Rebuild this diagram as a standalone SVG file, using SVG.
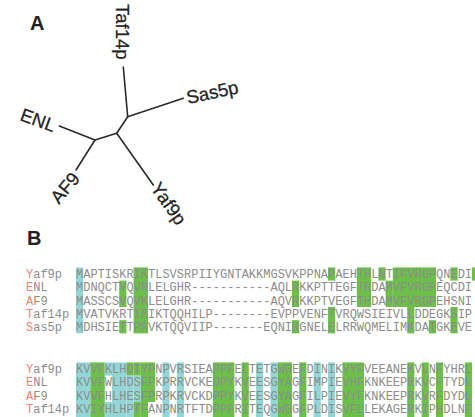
<svg xmlns="http://www.w3.org/2000/svg" width="475" height="417" viewBox="0 0 475 417">
<style>
.lbl{font-family:"Liberation Sans",Arial,sans-serif;font-weight:bold;font-size:20px;fill:#222}
.leaf{font-family:"Liberation Sans",Arial,sans-serif;font-size:18.5px;fill:#222;stroke:#222;stroke-width:0.25}
.br{stroke:#2a2a2a;stroke-width:1.6;fill:none;stroke-linecap:round}
.seq{font-family:"Liberation Mono","Courier New",monospace;font-size:12px;fill:#8c8c8c;white-space:pre}
.ini{fill:#f0846c}
.g{fill:#6cc04a}
.c{fill:#93d6d6}
</style>
<rect width="475" height="417" fill="#fff"/>
<text class="lbl" x="30" y="30">A</text>
<text class="lbl" x="27" y="245">B</text>

<g id="connectors">
<line class="br" x1="123.3" y1="67" x2="127.7" y2="116.7"/>
<line class="br" x1="127.7" y1="116.7" x2="183.3" y2="98.3"/>
<line class="br" x1="127.7" y1="116.7" x2="116.7" y2="133.3"/>
<line class="br" x1="116.7" y1="133.3" x2="153.3" y2="185"/>
<line class="br" x1="116.7" y1="133.3" x2="95" y2="140"/>
<line class="br" x1="95" y1="140" x2="59.3" y2="126"/>
<line class="br" x1="95" y1="140" x2="76" y2="170"/>
</g>
<g id="leaf-Taf14p"><text class="leaf" transform="translate(115.5,4) rotate(90)">Taf14p</text></g>
<g id="leaf-Sas5p"><text class="leaf" transform="translate(188,104) rotate(-12)">Sas5p</text></g>
<g id="leaf-ENL"><text class="leaf" transform="translate(19,120) rotate(20)">ENL</text></g>
<g id="leaf-AF9"><text class="leaf" transform="translate(59,205) rotate(-50)">AF9</text></g>
<g id="leaf-Yaf9p"><text class="leaf" transform="translate(150,188) rotate(55)">Yaf9p</text></g>

<g id="alignment-block1">
<rect class="c" x="76" y="267.4" width="7.2" height="66"/>
<rect class="g" x="119.2" y="280.6" width="7.2" height="26.4"/>
<rect class="g" x="119.2" y="320.2" width="7.2" height="13.2"/>
<rect class="g" x="133.6" y="267.4" width="14.4" height="66"/>
<rect class="g" x="292" y="280.6" width="7.2" height="26.4"/>
<rect class="g" x="292" y="320.2" width="7.2" height="13.2"/>
<rect class="g" x="328" y="267.4" width="7.2" height="13.2"/>
<rect class="g" x="328" y="307" width="7.2" height="26.4"/>
<rect class="g" x="356.8" y="267.4" width="14.4" height="39.6"/>
<rect class="g" x="378.4" y="267.4" width="7.2" height="13.2"/>
<rect class="g" x="385.6" y="280.6" width="7.2" height="26.4"/>
<rect class="g" x="392.8" y="267.4" width="43.2" height="39.6"/>
<rect class="g" x="407.2" y="307" width="7.2" height="26.4"/>
<rect class="g" x="428.8" y="320.2" width="7.2" height="13.2"/>
<rect class="g" x="450.4" y="267.4" width="7.2" height="13.2"/>
<rect class="g" x="450.4" y="307" width="7.2" height="26.4"/>
<rect class="g" x="472" y="267.4" width="7.2" height="13.2"/>
<text class="seq" x="26" y="278.2"><tspan class="ini">Y</tspan>af9p</text>
<text class="seq" x="76" y="278.2">MAPTISKRIKTLSVSRPIIYGNTAKKMGSVKPPNAPAEHTHLNTIFVRGPQNEDI</text>
<text class="seq" x="26" y="291.4"><tspan class="ini">E</tspan>NL</text>
<text class="seq" x="76" y="291.4">MDNQCTVQVRLELGHR-----------AQLRKKPTTEGFTRDAMVFVRGPEQCDI</text>
<text class="seq" x="26" y="304.6"><tspan class="ini">A</tspan>F9</text>
<text class="seq" x="76" y="304.6">MASSCSVQVKLELGHR-----------AQVRKKPTVEGFTHDAMVFVRGPEHSNI</text>
<text class="seq" x="26" y="317.8"><tspan class="ini">T</tspan>af14p</text>
<text class="seq" x="76" y="317.8">MVATVKRTIRIKTQQHILP--------EVPPVENFTVRQWSIEIVLLDDEGKSIP</text>
<text class="seq" x="26" y="331"><tspan class="ini">S</tspan>as5p</text>
<text class="seq" x="76" y="331">MDHSIETTPRVKTQQVIIP-------EQNIRGNELELRRWQMELIMKDATGKEVE</text>
</g>

<g id="alignment-block2">
<rect class="c" x="76" y="362.4" width="14.4" height="54.6"/>
<rect class="g" x="90.4" y="362.4" width="14.4" height="54.6"/>
<rect class="c" x="104.8" y="362.4" width="7.2" height="13.2"/>
<rect class="c" x="104.8" y="402" width="7.2" height="15"/>
<rect class="c" x="112" y="362.4" width="14.4" height="54.6"/>
<rect class="g" x="126.4" y="362.4" width="7.2" height="13.2"/>
<rect class="c" x="126.4" y="375.6" width="7.2" height="41.4"/>
<rect class="g" x="133.6" y="362.4" width="7.2" height="13.2"/>
<rect class="c" x="133.6" y="375.6" width="7.2" height="26.4"/>
<rect class="g" x="133.6" y="402" width="7.2" height="15"/>
<rect class="g" x="140.8" y="362.4" width="7.2" height="54.6"/>
<rect class="g" x="148" y="362.4" width="7.2" height="39.6"/>
<rect class="c" x="162.4" y="362.4" width="7.2" height="54.6"/>
<rect class="c" x="176.8" y="362.4" width="7.2" height="54.6"/>
<rect class="g" x="212.8" y="362.4" width="21.6" height="54.6"/>
<rect class="g" x="241.6" y="362.4" width="7.2" height="54.6"/>
<rect class="c" x="256" y="362.4" width="7.2" height="54.6"/>
<rect class="c" x="270.4" y="362.4" width="7.2" height="54.6"/>
<rect class="g" x="277.6" y="362.4" width="14.4" height="54.6"/>
<rect class="g" x="299.2" y="362.4" width="7.2" height="54.6"/>
<rect class="c" x="313.6" y="362.4" width="7.2" height="54.6"/>
<rect class="c" x="328" y="362.4" width="7.2" height="54.6"/>
<rect class="g" x="342.4" y="362.4" width="21.6" height="54.6"/>
<rect class="g" x="407.2" y="362.4" width="7.2" height="54.6"/>
<rect class="g" x="421.6" y="362.4" width="7.2" height="54.6"/>
<rect class="g" x="436" y="362.4" width="7.2" height="54.6"/>
<rect class="g" x="464.8" y="362.4" width="7.2" height="54.6"/>
<text class="seq" x="26" y="373.2"><tspan class="ini">Y</tspan>af9p</text>
<text class="seq" x="76" y="373.2">KVVFKLHDTYPNPVRSIEAPPFELTETGWGEFDINIKVYFVEEANEKVLNFYHRL</text>
<text class="seq" x="26" y="386.4"><tspan class="ini">E</tspan>NL</text>
<text class="seq" x="76" y="386.4">KVVFWLHDSFPKPRRVCKEDPYKVEESGYAGFIMPIEVHFKNKEEPRKVCFTYDL</text>
<text class="seq" x="26" y="399.6"><tspan class="ini">A</tspan>F9</text>
<text class="seq" x="76" y="399.6">KVVFHLHESFPRPKRVCKDPPYKVEESGYAGFILPIEVYFKNKEEPRKVRFDYDL</text>
<text class="seq" x="26" y="412.8"><tspan class="ini">T</tspan>af14p</text>
<text class="seq" x="76" y="412.8">KVIYHLHPTFANPNRTFTDPPFRITEQGWGGFPLDISVFLLEKAGERKIPHDLNF</text>
</g>
</svg>
